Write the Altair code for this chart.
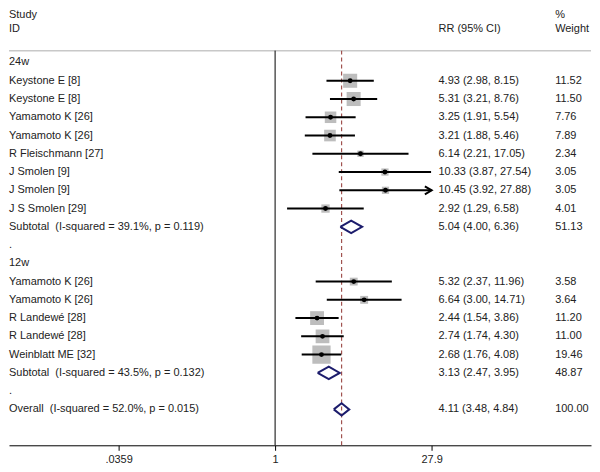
import altair as alt
import pandas as pd

# ---------------- data ----------------
row_labels = ["24w", "Keystone E [8]", "Keystone E [8]", "Yamamoto K [26]", "Yamamoto K [26]",
              "R Fleischmann [27]", "J Smolen [9]", "J Smolen [9]", "J S Smolen [29]",
              "Subtotal\u00a0 (I-squared = 39.1%, p = 0.119)", ".", "12w",
              "Yamamoto K [26]", "Yamamoto K [26]", "R Landewé [28]", "R Landewé [28]",
              "Weinblatt ME [32]", "Subtotal\u00a0 (I-squared = 43.5%, p = 0.132)", ".",
              "Overall\u00a0 (I-squared = 52.0%, p = 0.015)"]

study_rows = [1, 2, 3, 4, 5, 6, 7, 8, 12, 13, 14, 15, 16]
study_rr = [4.93, 5.31, 3.25, 3.21, 6.14, 10.33, 10.45, 2.92, 5.32, 6.64, 2.44, 2.74, 2.68]
study_lo = [2.98, 3.21, 1.91, 1.88, 2.21, 3.87, 3.92, 1.29, 2.37, 3.00, 1.54, 1.74, 1.76]
study_hi = [8.15, 8.76, 5.54, 5.46, 17.05, 27.54, 27.88, 6.58, 11.96, 14.71, 3.86, 4.30, 4.08]
study_wt = [11.52, 11.50, 7.76, 7.89, 2.34, 3.05, 3.05, 4.01, 3.58, 3.64, 11.20, 11.00, 19.46]
arrow_rows = [7]

pool_rows = [9, 17, 19]
pool_rr = [5.04, 3.13, 4.11]
pool_lo = [4.00, 2.47, 3.48]
pool_hi = [6.36, 3.95, 4.84]
pool_wt = [51.13, 48.87, 100.00]

null_value = [1]
tick_values = [0.0359, 1, 27.9]
tick_labels = [".0359", "1", "27.9"]

# ---------------- layout ----------------
W, H = 584, 437
x_scale = alt.Scale(type="log", domain=[0.003494, 825.0], nice=False)
y_scale = alt.Scale(domain=[-2.888, 20.966], reverse=True, nice=False, zero=False)
sep_row = -0.65
bottom_row = 20.966
FONT = "Liberation Sans"
FS = 11
TXT = "#222222"
X_LEFT, X_RR, X_WT = 0, 431, 548

label_expr = " : ".join(
    [f"abs(datum.value - {v}) < 1e-9 ? '{l}'" for v, l in zip(tick_values, tick_labels)]
) + " : ''"

x_axis = alt.Axis(values=tick_values, labelExpr=label_expr, grid=False, title=None,
                  domainColor="black", domainWidth=1, tickColor="black", tickSize=5,
                  tickWidth=1, labelFont=FONT, labelFontSize=FS, labelColor=TXT,
                  labelPadding=3, labelFlush=False)

studies = pd.DataFrame({"row": study_rows, "rr": study_rr, "lo": study_lo,
                        "hi": study_hi, "wt": study_wt})
studies["ci"] = [f"{a:.2f} ({b:.2f}, {c:.2f})" for a, b, c in zip(study_rr, study_lo, study_hi)]
studies["wtxt"] = [f"{w:.2f}" for w in study_wt]

pools = pd.DataFrame({"row": pool_rows, "rr": pool_rr, "lo": pool_lo, "hi": pool_hi, "wt": pool_wt})
pools["ci"] = [f"{a:.2f} ({b:.2f}, {c:.2f})" for a, b, c in zip(pool_rr, pool_lo, pool_hi)]
pools["wtxt"] = [f"{w:.2f}" for w in pool_wt]

dia = []
for i, (r, e, lo, hi) in enumerate(zip(pool_rows, pool_rr, pool_lo, pool_hi)):
    for k, (xx, yy) in enumerate([(lo, r), (e, r - 0.34), (hi, r), (e, r + 0.34), (lo, r)]):
        dia.append({"id": i, "ord": k, "x": xx, "y": yy})
diamonds = pd.DataFrame(dia)

arrows = studies[studies["row"].isin(arrow_rows)]

labels = pd.DataFrame({"row": list(range(len(row_labels))), "label": row_labels})
headers = pd.DataFrame({"row": [-2.58, -1.85], "label": ["Study", "ID"]})
hdr_rr = pd.DataFrame({"row": [-1.85], "label": ["RR (95% CI)"]})
hdr_wt = pd.DataFrame({"row": [-2.58, -1.85], "label": ["%", "Weight"]})

vlines = pd.DataFrame({"x": null_value + [pool_rr[-1]], "kind": ["null", "overall"],
                       "y1": [sep_row, sep_row], "y2": [bottom_row, bottom_row]})
seps = pd.DataFrame({"y": [sep_row]})


def Y(f):
    return alt.Y(f, scale=y_scale, axis=None)


def X(f):
    return alt.X(f, scale=x_scale, axis=x_axis)


sep = alt.Chart(seps).mark_rule(color="#c8c8c8", strokeWidth=1.5).encode(
    y=Y("y:Q"), x=alt.value(0), x2=alt.value(W))

null_line = alt.Chart(vlines[vlines["kind"] == "null"]).mark_rule(color="black", strokeWidth=1).encode(
    x=X("x:Q"), y=Y("y1:Q"), y2="y2:Q")

overall_line = alt.Chart(vlines[vlines["kind"] == "overall"]).mark_rule(
    color="#a0524f", strokeWidth=1.2, strokeDash=[4, 3]).encode(
    x=X("x:Q"), y=Y("y1:Q"), y2="y2:Q")

boxes = alt.Chart(studies).mark_square(color="#bdbdbd", opacity=1).encode(
    x=X("rr:Q"), y=Y("row:Q"),
    size=alt.Size("wt:Q", scale=alt.Scale(type="linear", domain=[0, 20], range=[0, 345]), legend=None))

ci = alt.Chart(studies).mark_rule(color="black", strokeWidth=2).encode(
    x=X("lo:Q"), x2="hi:Q", y=Y("row:Q"))

dots = alt.Chart(studies).mark_circle(color="black", size=24, opacity=1).encode(
    x=X("rr:Q"), y=Y("row:Q"))

arrow = alt.Chart(arrows).mark_point(shape="M-1.7,-1L0,0L-1.7,1", filled=False, color="black",
                                     strokeWidth=2, size=64, opacity=1).encode(
    x=X("hi:Q"), y=Y("row:Q"))

dia_chart = alt.Chart(diamonds).mark_line(color="#1c1c6c", strokeWidth=2, strokeJoin="miter").encode(
    x=X("x:Q"), y=Y("y:Q"), detail="id:N", order="ord:Q")


def txt(df, xpx, field="label"):
    return alt.Chart(df).mark_text(align="left", baseline="middle", font=FONT, fontSize=FS,
                                   color=TXT).encode(x=alt.value(xpx), y=Y("row:Q"), text=f"{field}:N")


layers = [sep, null_line, overall_line, boxes, ci, dots, arrow, dia_chart,
          txt(labels, X_LEFT), txt(headers, X_LEFT), txt(hdr_rr, X_RR), txt(hdr_wt, X_WT),
          txt(studies, X_RR, "ci"), txt(studies, X_WT, "wtxt"),
          txt(pools, X_RR, "ci"), txt(pools, X_WT, "wtxt")]

chart = alt.layer(*layers).properties(width=W, height=H, padding=0).configure_view(stroke=None)

chart.save("out.html", embed_options={"renderer": "svg", "actions": False})
